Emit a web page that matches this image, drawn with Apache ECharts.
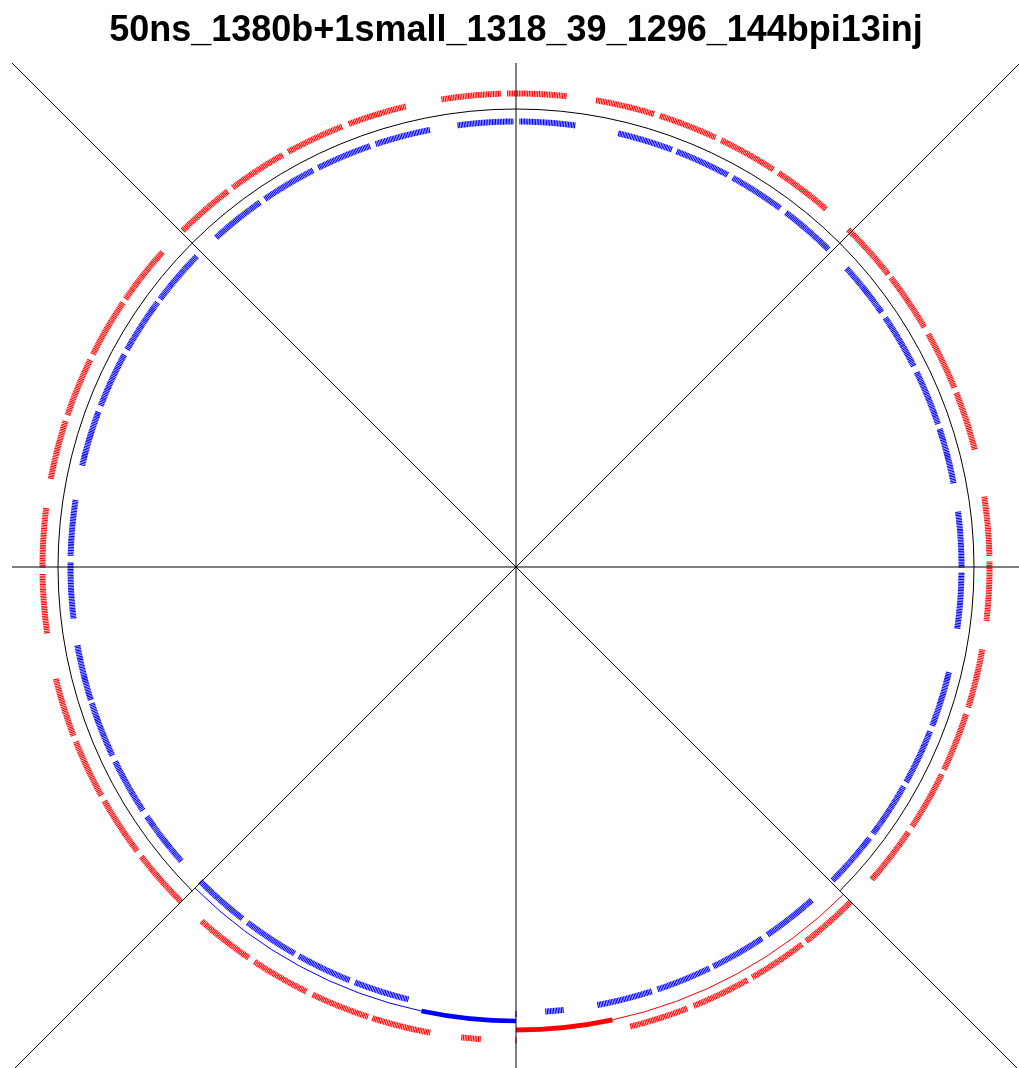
<!DOCTYPE html>
<html>
<head>
<meta charset="utf-8">
<title>50ns_1380b+1small filling scheme</title>
<script src="https://cdn.jsdelivr.net/npm/echarts@6/dist/echarts.min.js"></script>
<style>
  html, body { margin: 0; padding: 0; background: #fff; }
  #chart-container { width: 1019px; height: 1068px; }
</style>
</head>
<body>
<div id="chart-container"></div>
<script>
// LHC ring: 3564 bucket slots, slot 0 at the top, counting clockwise
const SLOTS = 3564;
const BUNCH_STEP = 2; // 50 ns spacing = every second slot

// Beam 1 (red): first slot of each train and bunches in it
const beam1TrainStarts = [
  97, 176, 255, 334, 442, 519, 600, 678, 807, 885,
  991, 1071, 1149, 1229, 1337, 1415, 1493, 1573, 1825,
  1886, 1963, 2043, 2123, 2229, 2309, 2388, 2467, 2594, 2673,
  2780, 2859, 2938, 3015, 3122, 3201, 3280, 3360, 3475, 3554
];
const beam1TrainBunches = [
  36, 36, 36, 36, 36, 36, 36, 36, 36, 36,
  36, 36, 36, 36, 36, 36, 36, 36, 12,
  36, 36, 36, 36, 36, 36, 36, 36, 36, 36,
  36, 36, 36, 36, 36, 36, 36, 36, 36, 36
];

// Beam 2 (blue)
const beam2TrainStarts = [
  5, 132, 210, 289, 370, 475, 555, 635, 713, 821, 899,
  1027, 1106, 1184, 1263, 1371, 1451, 1528, 1607, 1722,
  1921, 2000, 2078, 2158, 2265, 2346, 2426, 2502, 2608, 2688,
  2804, 2884, 2963, 3040, 3146, 3225, 3304, 3383, 3490
];
const beam2TrainBunches = [
  36, 36, 36, 36, 36, 36, 36, 36, 36, 36, 36,
  36, 36, 36, 36, 36, 36, 36, 36, 12,
  36, 36, 36, 36, 36, 36, 36, 36, 36, 36,
  36, 36, 36, 36, 36, 36, 36, 36, 36
];

// the single small bunch of each beam
const beam1Single = [1782];
const beam2Single = [1782];

// arcs: [from slot, to slot], drawn clockwise
const ringArc = [[2227, 1337 + SLOTS]];
const beam1ThinArc = [[1337, 1663]];
const beam1ThickArc = [[1663, 1782]];
const beam2ThickArc = [[1782, 1901]];
const beam2ThinArc = [[1901, 2227]];

const chartContainer = document.getElementById('chart-container');
const myChart = echarts.init(chartContainer);

// radial ticks, one per bunch
function trainRenderer(rIn, rOut, color) {
  return function (params, api) {
    const start = api.value(0);
    const bunches = api.value(1);
    const children = [];
    for (let i = 0; i < bunches; i++) {
      const slot = (start + BUNCH_STEP * i) % SLOTS;
      const p1 = api.coord([rIn, slot]);
      const p2 = api.coord([rOut, slot]);
      children.push({
        type: 'line',
        shape: { x1: p1[0], y1: p1[1], x2: p2[0], y2: p2[1] },
        style: { stroke: color, lineWidth: 1.1 }
      });
    }
    return { type: 'group', children: children };
  };
}

function arcRenderer(radius, color, width) {
  return function (params, api) {
    const c = api.coord([0, 0]);
    const p0 = api.coord([radius, api.value(0) % SLOTS]);
    const p1 = api.coord([radius, api.value(1) % SLOTS]);
    return {
      type: 'arc',
      shape: {
        cx: c[0], cy: c[1],
        r: Math.hypot(p0[0] - c[0], p0[1] - c[1]),
        startAngle: Math.atan2(p0[1] - c[1], p0[0] - c[0]),
        endAngle: Math.atan2(p1[1] - c[1], p1[0] - c[0]),
        clockwise: true
      },
      style: { stroke: color, lineWidth: width, fill: 'none' }
    };
  };
}

function crossLine(r, a) {
  return {
    type: 'line',
    coordinateSystem: 'polar',
    data: [[r, a], [r, a + SLOTS / 2]],
    symbol: 'none',
    clip: false,
    silent: true,
    lineStyle: { color: '#000', width: 1 }
  };
}

function custom(data, renderItem) {
  return {
    type: 'custom',
    coordinateSystem: 'polar',
    data: data,
    renderItem: renderItem,
    silent: true
  };
}

const option = {
  animation: false,
  backgroundColor: '#fff',
  title: {
    text: '50ns_1380b+1small_1318_39_1296_144bpi13inj',
    left: 511,
    textAlign: 'center',
    top: 8,
    textStyle: {
      fontFamily: 'Liberation Sans',
      fontWeight: 'bold',
      fontSize: 36,
      color: '#000'
    }
  },
  polar: {
    center: [516, 567],
    radius: 713
  },
  angleAxis: {
    type: 'value',
    min: 0,
    max: SLOTS,
    startAngle: 90,
    clockwise: true,
    axisLine: { show: false },
    axisTick: { show: false },
    axisLabel: { show: false },
    splitLine: { show: false }
  },
  radiusAxis: {
    type: 'value',
    min: 0,
    max: 713,
    axisLine: { show: false },
    axisTick: { show: false },
    axisLabel: { show: false },
    splitLine: { show: false }
  },
  series: [
    crossLine(504, 0),
    crossLine(713, SLOTS / 8),
    crossLine(504, SLOTS / 4),
    crossLine(713, SLOTS * 3 / 8),
    custom(ringArc, arcRenderer(458, '#000', 1)),
    custom(beam1ThinArc, arcRenderer(463, '#ff0000', 1)),
    custom(beam1ThickArc, arcRenderer(463, '#ff0000', 5)),
    custom(beam2ThinArc, arcRenderer(454, '#0000ff', 1)),
    custom(beam2ThickArc, arcRenderer(454, '#0000ff', 4.5)),
    custom(beam1TrainStarts.map((s, i) => [s, beam1TrainBunches[i]]), trainRenderer(470.5, 476.5, '#ff0000')),
    custom(beam1Single.map(s => [s, 1]), trainRenderer(470.5, 476.5, '#ff0000')),
    custom(beam2TrainStarts.map((s, i) => [s, beam2TrainBunches[i]]), trainRenderer(442.5, 448.5, '#0000ff')),
    custom(beam2Single.map(s => [s, 1]), trainRenderer(444, 450, '#0000ff'))
  ]
};

myChart.setOption(option);
</script>
</body>
</html>
